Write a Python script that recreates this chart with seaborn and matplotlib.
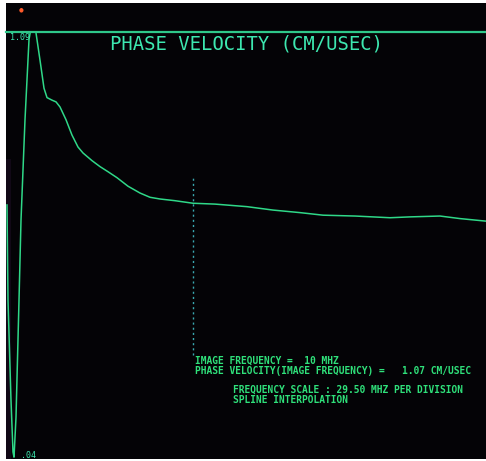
import matplotlib
matplotlib.use("Agg")
import matplotlib.pyplot as plt
import seaborn as sns
import pandas as pd
from matplotlib.patches import Rectangle

freq_mhz = [0.053, 0.107, 0.267, 0.374, 0.428, 0.535, 0.695, 0.802, 1.016, 1.230,
            1.390, 1.604, 1.818, 2.032, 2.193, 2.460, 2.674, 2.888, 3.209, 3.529,
            3.850, 4.118, 4.599, 5.027, 5.455, 5.936, 6.524, 7.166, 7.701, 8.235,
            9.037, 10.0, 11.176, 12.888, 14.278, 15.722, 16.952, 18.663, 20.535,
            21.604, 23.209, 24.278, 25.668]
phase_vel = [1.0697, 1.0585, 1.0468, 1.0407, 1.0401, 1.0448, 1.0585, 1.0679, 1.0797, 1.0891,
             1.0912, 1.0899, 1.0867, 1.0834, 1.0823, 1.0820, 1.0818, 1.0812, 1.0797, 1.0779,
             1.0765, 1.0758, 1.0749, 1.0742, 1.0736, 1.0729, 1.0719, 1.0711, 1.0706, 1.0704,
             1.0702, 1.0699, 1.0698, 1.0695, 1.0691, 1.0688, 1.0685, 1.0684, 1.0682,
             1.0683, 1.0684, 1.0681, 1.0678]

y_top_label = "1.09"
y_bottom_label = ".04"
title = "PHASE VELOCITY (CM/USEC)"
image_freq = 10.0
info_lines = ["IMAGE FREQUENCY =  10 MHZ",
              "PHASE VELOCITY(IMAGE FREQUENCY) =   1.07 CM/USEC"]
scale_lines = ["FREQUENCY SCALE : 29.50 MHZ PER DIVISION",
               "SPLINE INTERPOLATION"]

df = pd.DataFrame({"freq": freq_mhz, "vel": phase_vel})

W, H = 486, 461
fig = plt.figure(figsize=(W / 100, H / 100), dpi=100)
fig.patch.set_facecolor("white")

# screen background
fig.patches.append(Rectangle((6 / W, 2 / H), 1 - 6 / W, (459 - 3) / H,
                             transform=fig.transFigure, facecolor="#040306",
                             edgecolor="none", zorder=-10))
fig.patches.append(Rectangle((6 / W, 2 / H), 5 / W, 300 / H,
                             transform=fig.transFigure, facecolor="#1a0c22",
                             edgecolor="none", zorder=-9, alpha=0.6))

ax = fig.add_axes([6 / W, (461 - 458) / H, 480 / W, (458 - 32) / H])
ax.set_facecolor("none")
ax.set_xlim(0, 25.668)
ax.set_ylim(1.04, 1.09)

sns.lineplot(data=df, x="freq", y="vel", ax=ax, sort=False, estimator=None,
             color="#2fd888", linewidth=1.1)

ax.axvline(image_freq, ymin=(458 - 355) / 426, ymax=(458 - 178) / 426,
           color="#3aa8b0", linestyle=(0, (1.5, 2.2)), linewidth=1.0)

for s in ["left", "right", "bottom"]:
    ax.spines[s].set_visible(False)
ax.spines["top"].set_color("#2fc88a")
ax.spines["top"].set_linewidth(1.6)
ax.set_xticks([])
ax.set_yticks([])
ax.set_xlabel("")
ax.set_ylabel("")

txt_color = "#3de8b0"
mono = "DejaVu Sans Mono"

def px(x, y):
    return x / W, 1 - y / H

fig.text(*px(246, 44), title, color=txt_color, family=mono, fontsize=13.6,
         ha="center", va="center")
fig.text(*px(10, 38), y_top_label, color=txt_color, family=mono, fontsize=6,
         ha="left", va="center")
fig.text(*px(21, 455), y_bottom_label, color=txt_color, family=mono, fontsize=6,
         ha="left", va="center")

for i, line in enumerate(info_lines):
    fig.text(*px(195, 361 + i * 10), line, color="#2fe07a", family=mono,
             fontsize=6.9, ha="left", va="center", fontweight="bold")
for i, line in enumerate(scale_lines):
    fig.text(*px(233, 390 + i * 10), line, color="#2fe07a", family=mono,
             fontsize=6.9, ha="left", va="center", fontweight="bold")

# small orange indicator light in the corner
fig.text(*px(21, 10), "\u25cf", color="#ff5a2a", fontsize=4, ha="center", va="center")

fig.savefig("out.png", dpi=100, facecolor=fig.get_facecolor())
